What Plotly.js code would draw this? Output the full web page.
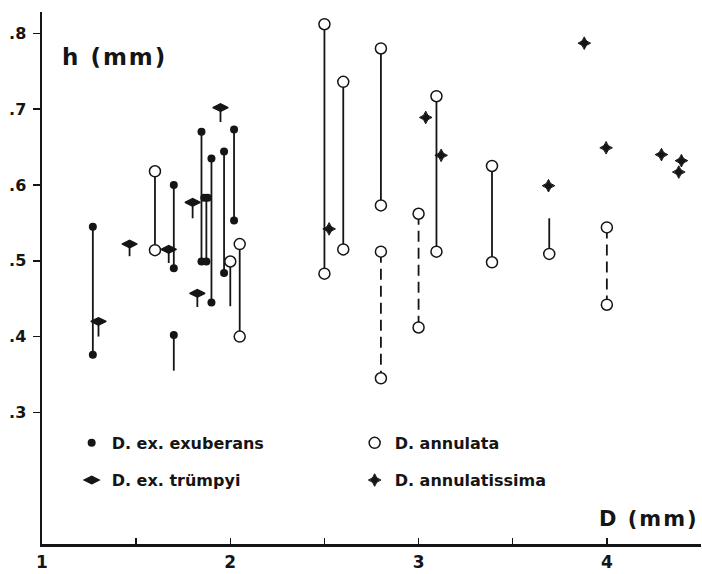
<!DOCTYPE html>
<html>
<head>
<meta charset="utf-8">
<script src="https://cdn.plot.ly/plotly-3.0.1.min.js"></script>
<style>
html,body{margin:0;padding:0;background:#fff;}
#chart{width:702px;height:574px;}
.annotation-text{letter-spacing:2px;}
</style>
</head>
<body>
<div id="chart"></div>
<script>
// ---- Data ----
// D. ex. exuberans (filled dots)
const exuD = [1.27, 1.27, 1.70, 1.70, 1.70, 1.847, 1.847, 1.862, 1.880, 1.873, 1.90, 1.90, 1.967, 1.967, 2.02, 2.02];
const exuH = [0.545, 0.376, 0.600, 0.490, 0.402, 0.670, 0.499, 0.583, 0.583, 0.499, 0.635, 0.445, 0.644, 0.484, 0.673, 0.553];
// exuberans connecting segments (solid)
const exuSegD   = [1.27, 1.70, 1.70, 1.847, 1.873, 1.90, 1.967, 2.02];
const exuSegTop = [0.545, 0.600, 0.402, 0.670, 0.583, 0.635, 0.644, 0.673];
const exuSegBot = [0.376, 0.490, 0.355, 0.499, 0.499, 0.445, 0.484, 0.553];

// D. ex. trümpyi (bar with dot), with short stems below
const trD       = [1.30, 1.465, 1.673, 1.80, 1.825, 1.948];
const trH       = [0.420, 0.522, 0.515, 0.577, 0.457, 0.702];
const trStemBot = [0.400, 0.506, 0.497, 0.556, 0.439, 0.683];

// D. annulata (open circles)
const anD = [1.60, 1.60, 2.00, 2.05, 2.05, 2.50, 2.50, 2.60, 2.60, 2.80, 2.80, 2.80, 2.80, 3.00, 3.00, 3.095, 3.095, 3.39, 3.39, 3.694, 4.00, 4.00];
const anH = [0.618, 0.514, 0.499, 0.522, 0.400, 0.812, 0.483, 0.736, 0.515, 0.780, 0.573, 0.512, 0.345, 0.562, 0.412, 0.717, 0.512, 0.625, 0.498, 0.509, 0.544, 0.442];
// annulata solid segments
const anSolidD   = [1.60, 2.00, 2.05, 2.50, 2.60, 2.80, 3.095, 3.39, 3.694];
const anSolidTop = [0.618, 0.499, 0.522, 0.812, 0.736, 0.780, 0.717, 0.625, 0.556];
const anSolidBot = [0.514, 0.440, 0.400, 0.483, 0.515, 0.573, 0.512, 0.498, 0.509];
// annulata dashed segments
const anDashD   = [2.80, 3.00, 4.00];
const anDashTop = [0.512, 0.562, 0.544];
const anDashBot = [0.345, 0.412, 0.442];

// D. annulatissima (four-point stars)
const atD = [2.525, 3.038, 3.12, 3.69, 3.88, 3.996, 4.29, 4.382, 4.396];
const atH = [0.542, 0.689, 0.639, 0.599, 0.787, 0.649, 0.640, 0.617, 0.632];

// Axis ticks
const xTickVals = [1, 1.5, 2, 2.5, 3, 3.5, 4];
const xTickText = ['1', '', '2', '', '3', '', '4'];
const yTickVals = [0.3, 0.4, 0.5, 0.6, 0.7, 0.8];
const yTickText = ['.3', '.4', '.5', '.6', '.7', '.8'];

const seriesNames = ['D. ex. exuberans', 'D. annulata', 'D. ex. trümpyi', 'D. annulatissima'];

// ---- Helpers ----
function segs(xs, y0, y1) {
  const x = [], y = [];
  xs.forEach((v, i) => { x.push(v, v, null); y.push(y0[i], y1[i], null); });
  return {x, y};
}

const INK = '#151515';
const FONT = 'DejaVu Sans, Liberation Sans, Arial, sans-serif';

const s1 = segs(exuSegD, exuSegTop, exuSegBot);
const s2 = segs(trD, trH, trStemBot);
const s3 = segs(anSolidD, anSolidTop, anSolidBot);
const s4 = segs(anDashD, anDashTop, anDashBot);

function lineTrace(s, dash) {
  return {x: s.x, y: s.y, mode: 'lines', type: 'scatter', showlegend: false, hoverinfo: 'skip',
          line: {color: INK, width: 1.8, dash: dash || 'solid'}};
}

const traces = [
  lineTrace(s1), lineTrace(s2), lineTrace(s3), lineTrace(s4, '11px,6px'),
  {x: exuD, y: exuH, mode: 'markers', type: 'scatter', name: seriesNames[0], legend: 'legend',
   marker: {symbol: 'circle', size: 8, color: INK, line: {width: 0}}},
  {x: anD, y: anH, mode: 'markers', type: 'scatter', name: seriesNames[1], legend: 'legend',
   marker: {symbol: 'circle', size: 11, color: '#ffffff', line: {color: INK, width: 1.5}}},
  {x: trD, y: trH, mode: 'markers', type: 'scatter', name: seriesNames[2], legend: 'legend2',
   marker: {symbol: 'diamond-wide', size: 11, color: INK, line: {color: INK, width: 1.2}}},
  {x: atD, y: atH, mode: 'markers', type: 'scatter', name: seriesNames[3], legend: 'legend2',
   marker: {symbol: 'star-diamond', size: 9, color: INK, line: {color: INK, width: 1}}}
];

const legendCommon = {
  orientation: 'h', xanchor: 'left', yanchor: 'middle',
  bgcolor: 'rgba(0,0,0,0)', borderwidth: 0,
  font: {family: FONT, size: 16, color: INK, weight: 'bold'},
  entrywidth: 238, entrywidthmode: 'pixels', itemclick: false, itemdoubleclick: false
};

const layout = {
  width: 702, height: 574,
  margin: {l: 42, r: 1, t: 12, b: 30},
  paper_bgcolor: '#ffffff', plot_bgcolor: '#ffffff',
  showlegend: true,
  hovermode: false,
  font: {family: FONT, color: INK, weight: 'bold'},
  xaxis: {
    range: [1, 4.5], showgrid: false, zeroline: false,
    showline: true, linecolor: INK, linewidth: 2.5,
    ticks: 'inside', ticklen: 6, tickwidth: 1.5, tickcolor: INK,
    tickvals: xTickVals, ticktext: xTickText,
    tickfont: {family: FONT, size: 17, color: INK, weight: 'bold'},
    ticklabelstandoff: 1
  },
  yaxis: {
    range: [0.1264, 0.8281], showgrid: false, zeroline: false,
    showline: true, linecolor: INK, linewidth: 2.5,
    ticks: 'outside', ticklen: 7, tickwidth: 1.5, tickcolor: INK,
    tickvals: yTickVals, ticktext: yTickText,
    tickfont: {family: FONT, size: 16, color: INK, weight: 'bold'},
    ticklabelstandoff: 3
  },
  legend: Object.assign({}, legendCommon, {x: 0.045, y: 0.19}),
  legend2: Object.assign({}, legendCommon, {x: 0.045, y: 0.12}),
  annotations: [
    {text: 'h (mm)', xref: 'paper', yref: 'paper', x: 0.027, y: 0.915, xanchor: 'left', yanchor: 'middle',
     showarrow: false, font: {family: FONT, size: 23, color: INK, weight: 'bold'}},
    {text: 'D (mm)', xref: 'paper', yref: 'paper', x: 1.0, y: 0.047, xanchor: 'right', yanchor: 'middle',
     showarrow: false, font: {family: FONT, size: 21, color: INK, weight: 'bold'}}
  ]
};

Plotly.newPlot('chart', traces, layout, {displayModeBar: false, staticPlot: true});
</script>
</body>
</html>
